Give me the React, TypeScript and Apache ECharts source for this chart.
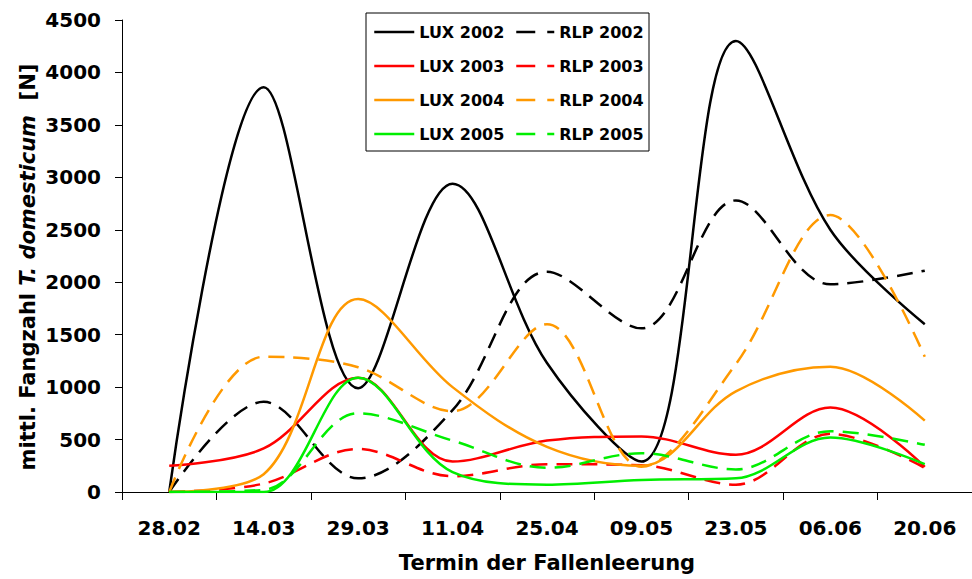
import React, { useEffect, useRef } from "react";
import * as echarts from "echarts";

const categories = ["28.02", "14.03", "29.03", "11.04", "25.04", "09.05", "23.05", "06.06", "20.06"];
const yTicks = [0, 500, 1000, 1500, 2000, 2500, 3000, 3500, 4000, 4500];

const lux2002 = [0, 3860, 990, 2940, 1230, 290, 4300, 2500, 1600];
const rlp2002 = [0, 860, 130, 780, 2100, 1560, 2780, 1980, 2110];
const lux2003 = [250, 415, 1090, 290, 490, 530, 355, 805, 240];
const rlp2003 = [0, 80, 410, 150, 265, 255, 70, 555, 230];
const lux2004 = [0, 170, 1840, 1000, 430, 250, 960, 1195, 680];
const rlp2004 = [0, 1290, 1190, 770, 1600, 240, 1220, 2640, 1290];
const lux2005 = [0, 0, 1090, 190, 70, 115, 130, 520, 265];
const rlp2005 = [0, 20, 750, 490, 230, 370, 215, 580, 450];

const FONT = "DejaVu Sans";
const BLACK = "#000000";
const RED = "#ff0000";
const ORANGE = "#ff9900";
const GREEN = "#00ee00";
const DASH = [16, 9];
const LEGEND_DASH = [19, 12];

export default function App() {
  const ref = useRef<HTMLDivElement>(null);
  useEffect(() => {
    if (!ref.current) return;
    const chart = echarts.init(ref.current, undefined, { renderer: "svg" });
    const mk = (name: string, data: number[], color: string, dashed: boolean) => ({
      name,
      type: "line",
      data,
      smooth: 0.35,
      symbol: "none",
      showSymbol: false,
      lineStyle: { color, width: 2.5, type: dashed ? DASH : "solid" },
      itemStyle: { color },
      z: 2,
    });
    const legendText = { fontFamily: FONT, fontWeight: "bold", fontSize: 16, color: "#000" };
    const legendItem = (name: string, dashed: boolean) => ({
      name,
      lineStyle: { width: 2.5, type: dashed ? LEGEND_DASH : "solid" },
      itemStyle: { opacity: 0 },
    });
    chart.setOption({
      animation: false,
      backgroundColor: "#fff",
      grid: { left: 122, right: 0, top: 20, bottom: 87 },
      legend: [
        {
          data: ["LUX 2002", "LUX 2003", "LUX 2004", "LUX 2005"].map((n) => legendItem(n, false)),
          orient: "vertical",
          left: 373,
          top: 24,
          padding: 0,
          itemWidth: 40,
          itemHeight: 14,
          itemGap: 18,
          itemStyle: { opacity: 0 },
          textStyle: legendText,
          z: 5,
        },
        {
          data: ["RLP 2002", "RLP 2003", "RLP 2004", "RLP 2005"].map((n) => legendItem(n, true)),
          orient: "vertical",
          left: 515,
          top: 24,
          padding: 0,
          itemWidth: 38,
          itemHeight: 14,
          itemGap: 18,
          itemStyle: { opacity: 0 },
          textStyle: legendText,
          z: 5,
        },
      ],
      graphic: [
        {
          type: "rect",
          z: 3,
          shape: { x: 366, y: 13, width: 283, height: 138 },
          style: { fill: "#fff", stroke: "#000", lineWidth: 1 },
        },
        {
          type: "text",
          z: 5,
          x: 28,
          y: 267,
          rotation: Math.PI / 2,
          style: {
            text: "{a|mittl. Fangzahl }{b|T. domesticum}{a|  [N]}",
            align: "center",
            verticalAlign: "middle",
            rich: {
              a: { fontFamily: FONT, fontWeight: "bold", fontSize: 21, fill: "#000" },
              b: { fontFamily: FONT, fontWeight: "bold", fontStyle: "italic", fontSize: 21, fill: "#000" },
            },
          },
        },
      ],
      xAxis: {
        type: "category",
        data: categories,
        boundaryGap: true,
        name: "Termin der Fallenleerung",
        nameLocation: "middle",
        nameGap: 60,
        nameTextStyle: { fontFamily: FONT, fontWeight: "bold", fontSize: 21, color: "#000" },
        axisLine: { lineStyle: { color: "#000", width: 1 } },
        axisTick: { show: true, length: 8, lineStyle: { color: "#000" } },
        axisLabel: { interval: 0, margin: 26, fontFamily: FONT, fontWeight: "bold", fontSize: 20, color: "#000" },
        splitLine: { show: false },
      },
      yAxis: {
        type: "value",
        min: yTicks[0],
        max: yTicks[yTicks.length - 1],
        interval: yTicks[1] - yTicks[0],
        axisLine: { show: true, lineStyle: { color: "#000", width: 1 } },
        axisTick: { show: true, length: 7, lineStyle: { color: "#000" } },
        axisLabel: {
          margin: 21,
          fontFamily: FONT,
          fontWeight: "bold",
          fontSize: 20,
          color: "#000",
          formatter: (v: number) => String(v),
        },
        splitLine: { show: false },
      },
      series: [
        mk("LUX 2002", lux2002, BLACK, false),
        mk("RLP 2002", rlp2002, BLACK, true),
        mk("LUX 2003", lux2003, RED, false),
        mk("RLP 2003", rlp2003, RED, true),
        mk("LUX 2004", lux2004, ORANGE, false),
        mk("RLP 2004", rlp2004, ORANGE, true),
        mk("LUX 2005", lux2005, GREEN, false),
        mk("RLP 2005", rlp2005, GREEN, true),
      ],
    });
    return () => chart.dispose();
  }, []);
  return (
    <div
      ref={ref}
      style={{ position: "fixed", left: 0, top: 0, width: 972, height: 579, background: "#fff" }}
    />
  );
}
